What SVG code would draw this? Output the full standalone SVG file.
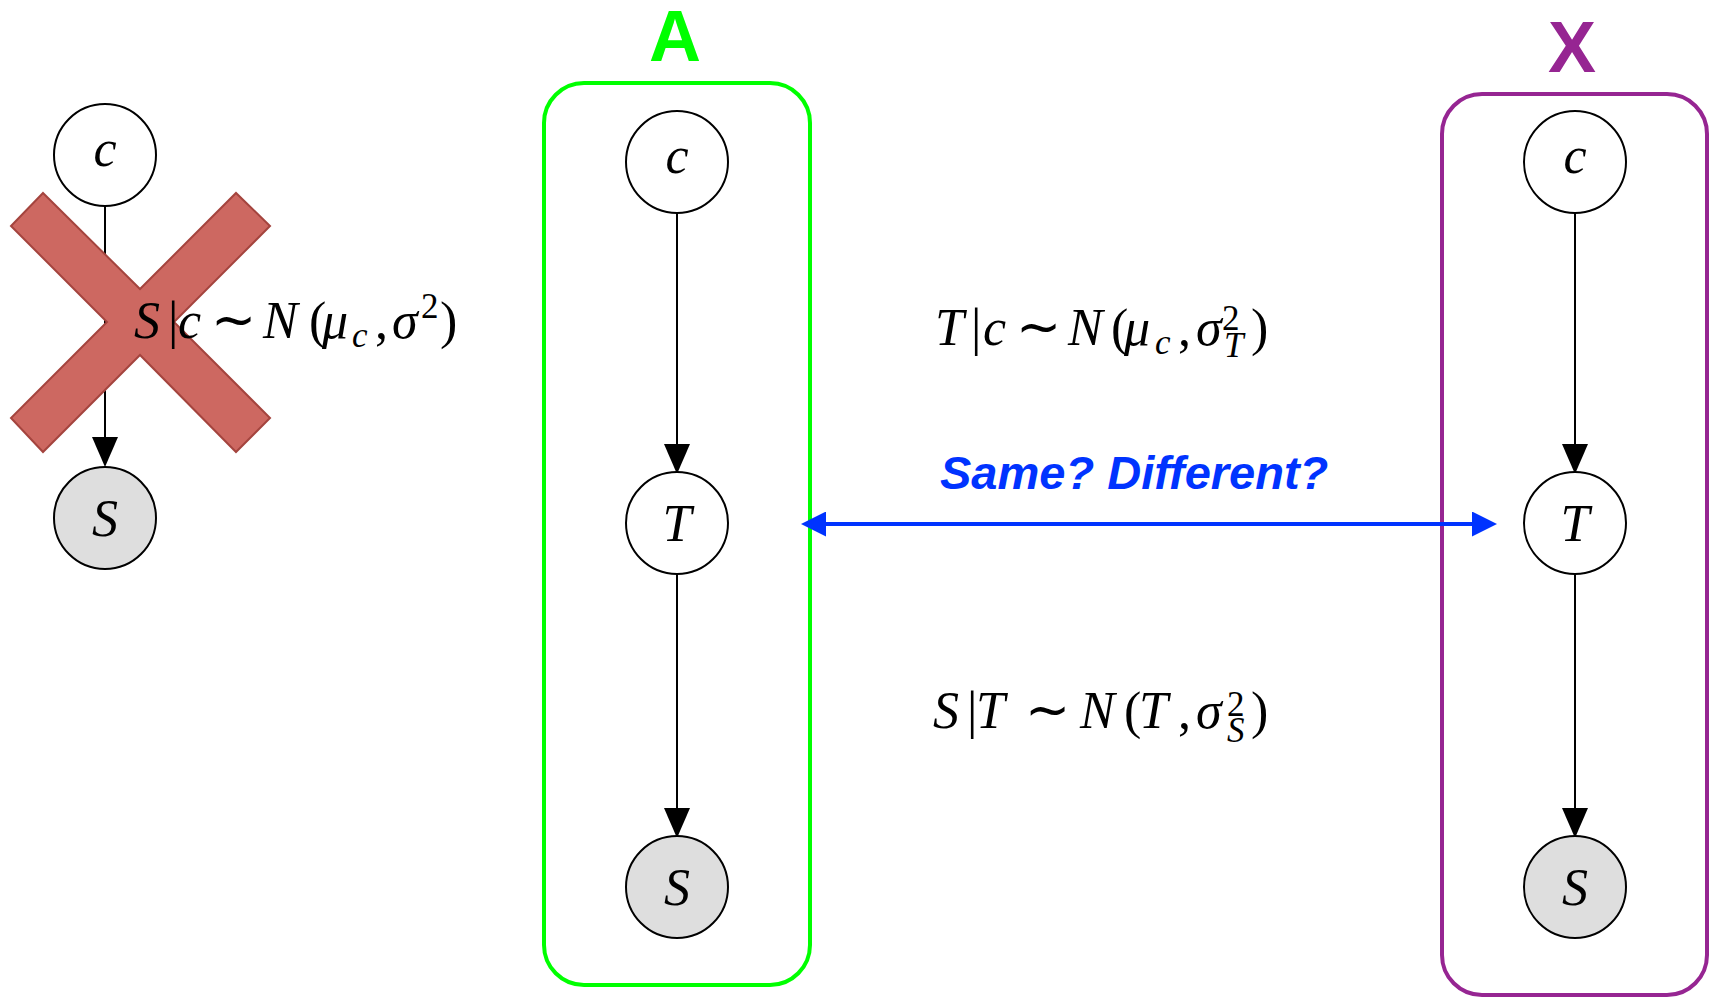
<svg xmlns="http://www.w3.org/2000/svg" width="1714" height="998" viewBox="0 0 1714 998">
<style>
.node{stroke:#000;stroke-width:2;fill:#fff}
.obs{fill:#dedede}
.lbl{font-family:"Liberation Serif","DejaVu Serif",serif;font-style:italic;font-size:52px;text-anchor:middle;fill:#000}
.math{font-family:"Liberation Serif","DejaVu Serif",serif;font-size:52px;fill:#000}
.i{font-style:italic}
.sm{font-size:35px}
.tl{font-family:"DejaVu Sans","Liberation Serif",sans-serif;font-size:54px}
.edge{stroke:#000;stroke-width:2;fill:none}
.big{font-family:"Liberation Sans",Arial,sans-serif;font-weight:bold;font-size:72px;text-anchor:middle}
</style>
<defs>
<marker id="ah" markerUnits="userSpaceOnUse" markerWidth="30" markerHeight="26" refX="28" refY="13" orient="auto"><path d="M0,0 L30,13 L0,26 z" fill="#000"/></marker>
<marker id="bh" markerUnits="userSpaceOnUse" markerWidth="25" markerHeight="25" refX="20" refY="12.5" orient="auto-start-reverse"><path d="M0,0 L25,12.5 L0,25 z" fill="#0033ff"/></marker>
</defs>
<rect width="1714" height="998" fill="#fff"/>

<g id="containers">
<rect id="boxA" x="544" y="83" width="266" height="902" rx="40" fill="none" stroke="#00ff00" stroke-width="4"/>
<rect id="boxX" x="1442" y="94" width="265" height="901" rx="40" fill="none" stroke="#962592" stroke-width="4"/>
<text class="big" x="675" y="61" fill="#00ff00">A</text>
<text class="big" x="1572" y="72" fill="#962592">X</text>
</g>

<g id="connectors">
<line class="edge" x1="105" y1="206" x2="105" y2="465" marker-end="url(#ah)"/>
<line class="edge" x1="677" y1="213" x2="677" y2="472" marker-end="url(#ah)"/>
<line class="edge" x1="677" y1="574" x2="677" y2="836" marker-end="url(#ah)"/>
<line class="edge" x1="1575" y1="213" x2="1575" y2="472" marker-end="url(#ah)"/>
<line class="edge" x1="1575" y1="574" x2="1575" y2="836" marker-end="url(#ah)"/>
<line x1="806" y1="524" x2="1492" y2="524" stroke="#0033ff" stroke-width="4" marker-start="url(#bh)" marker-end="url(#bh)"/>
</g>

<g id="left-c"><circle class="node" cx="105" cy="155" r="51"/><text class="lbl" x="105" y="166">c</text></g>
<g id="left-S"><circle class="node obs" cx="105" cy="518" r="51"/><text class="lbl" x="105" y="536">S</text></g>

<g id="cross">
<polygon points="43,193 140,289 236,193 270,226 174,322 270,418 236,452 140,355 43,452 11,418 107,322 11,226" fill="#cd6861" stroke="#a4443e" stroke-width="2"/>
</g>

<g id="formula-left">
<text class="math" y="338"><tspan x="134" class="i">S</tspan><tspan x="168">|</tspan><tspan x="178" class="i">c</tspan><tspan x="211" class="tl">∼</tspan><tspan x="263" class="i">N</tspan><tspan x="309">(</tspan><tspan x="322" class="i">μ</tspan><tspan x="352" y="347" class="i sm">c</tspan><tspan x="375" y="338">,</tspan><tspan x="392" class="i">σ</tspan><tspan x="421" y="318" class="sm">2</tspan><tspan x="440" y="338">)</tspan></text>
</g>

<g id="A-c"><circle class="node" cx="677" cy="162" r="51"/><text class="lbl" x="677" y="173">c</text></g>
<g id="A-T"><circle class="node" cx="677" cy="523" r="51"/><text class="lbl" x="677" y="541">T</text></g>
<g id="A-S"><circle class="node obs" cx="677" cy="887" r="51"/><text class="lbl" x="677" y="905">S</text></g>

<g id="X-c"><circle class="node" cx="1575" cy="162" r="51"/><text class="lbl" x="1575" y="173">c</text></g>
<g id="X-T"><circle class="node" cx="1575" cy="523" r="51"/><text class="lbl" x="1575" y="541">T</text></g>
<g id="X-S"><circle class="node obs" cx="1575" cy="887" r="51"/><text class="lbl" x="1575" y="905">S</text></g>

<g id="formula-T">
<text class="math" y="345"><tspan x="935" class="i">T</tspan><tspan x="971">|</tspan><tspan x="983" class="i">c</tspan><tspan x="1016" class="tl">∼</tspan><tspan x="1068" class="i">N</tspan><tspan x="1111">(</tspan><tspan x="1124" class="i">μ</tspan><tspan x="1155" y="354" class="i sm">c</tspan><tspan x="1178" y="345">,</tspan><tspan x="1196" class="i">σ</tspan><tspan x="1222" y="330" class="sm">2</tspan><tspan x="1224" y="357" class="i sm">T</tspan><tspan x="1251" y="345">)</tspan></text>
</g>

<g id="label-same">
<text x="940" y="489" font-family="Liberation Sans, Arial, sans-serif" font-weight="bold" font-style="italic" font-size="47" fill="#0033ff">Same? Different?</text>
</g>

<g id="formula-S">
<text class="math" y="728"><tspan x="933" class="i">S</tspan><tspan x="967">|</tspan><tspan x="976" class="i">T</tspan><tspan x="1025" class="tl">∼</tspan><tspan x="1080" class="i">N</tspan><tspan x="1124">(</tspan><tspan x="1139" class="i">T</tspan><tspan x="1178">,</tspan><tspan x="1196" class="i">σ</tspan><tspan x="1227" y="716" class="sm">2</tspan><tspan x="1227" y="742" class="i sm">S</tspan><tspan x="1251" y="728">)</tspan></text>
</g>
</svg>
